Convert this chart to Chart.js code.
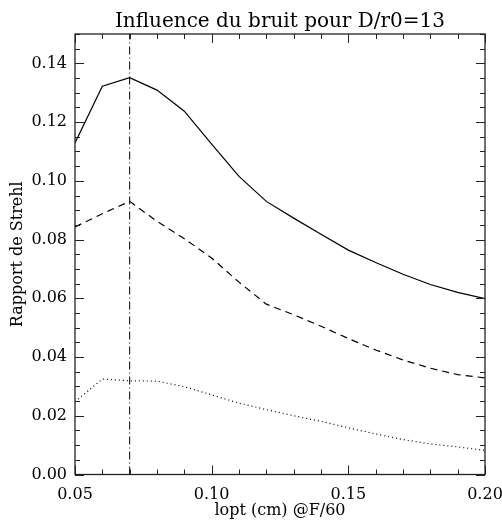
<!DOCTYPE html>
<html>
<head>
<meta charset="utf-8">
<script src="https://cdn.jsdelivr.net/npm/chart.js@4"></script>
<style>
  html, body { margin: 0; padding: 0; background: #fff; }
  #wrap { width: 502px; height: 521px; }
</style>
</head>
<body>
<div id="wrap"><canvas id="chart" width="502" height="521"></canvas></div>
<script>
// --- Data ---
const lopt = [0.05, 0.06, 0.07, 0.08, 0.09, 0.10, 0.11, 0.12, 0.13, 0.14, 0.15, 0.16, 0.17, 0.18, 0.19, 0.20];
const strehlSolid  = [0.1129, 0.1322, 0.1351, 0.1309, 0.1237, 0.1125, 0.1015, 0.0930, 0.0873, 0.0818, 0.0764, 0.0722, 0.0682, 0.0647, 0.0620, 0.0599];
const strehlDashed = [0.0843, 0.0888, 0.0930, 0.0862, 0.0803, 0.0737, 0.0655, 0.0580, 0.0544, 0.0505, 0.0463, 0.0424, 0.0390, 0.0362, 0.0340, 0.0329];
const strehlDotted = [0.0248, 0.0325, 0.0319, 0.0318, 0.0299, 0.0271, 0.0243, 0.0221, 0.0200, 0.0181, 0.0159, 0.0138, 0.0119, 0.0104, 0.0094, 0.0082];
const markerX = [0.07, 0.07];
const markerY = [0.0, 0.15];

const xTicks = [0.05, 0.10, 0.15, 0.20];
const yTicks = [0.00, 0.02, 0.04, 0.06, 0.08, 0.10, 0.12, 0.14];
const xMinorStep = 0.01;
const yMinorStep = 0.005;

const chartTitle = 'Influence du bruit pour D/r0=13';
const FONT = "'DejaVu Serif', serif";

function toPoints(xs, ys) {
    return xs.map((x, i) => ({ x: x, y: ys[i] }));
}

// --- IDL style box with inward ticks on all four sides, title over the plot ---
const boxPlugin = {
    id: 'idlBox',
    afterDraw(chart) {
        const { ctx, chartArea: a, scales: { x, y } } = chart;
        ctx.save();
        ctx.strokeStyle = '#222';
        ctx.lineWidth = 1.3;
        ctx.strokeRect(a.left, a.top, a.right - a.left, a.bottom - a.top);

        ctx.lineWidth = 1;
        ctx.beginPath();
        // x ticks (bottom & top)
        for (let v = x.min; v <= x.max + 1e-9; v += xMinorStep) {
            const px = Math.round(x.getPixelForValue(v)) + 0.5;
            const major = xTicks.some(t => Math.abs(t - v) < 1e-6);
            const len = major ? 9 : 5;
            ctx.moveTo(px, a.bottom); ctx.lineTo(px, a.bottom - len);
            ctx.moveTo(px, a.top); ctx.lineTo(px, a.top + len);
        }
        // y ticks (left & right)
        for (let v = y.min; v <= y.max + 1e-9; v += yMinorStep) {
            const py = Math.round(y.getPixelForValue(v)) + 0.5;
            const major = yTicks.some(t => Math.abs(t - v) < 1e-6);
            const len = major ? 9 : 5;
            ctx.moveTo(a.left, py); ctx.lineTo(a.left + len, py);
            ctx.moveTo(a.right, py); ctx.lineTo(a.right - len, py);
        }
        ctx.stroke();

        // title centred on the plot box
        ctx.fillStyle = '#000';
        ctx.font = '20px ' + FONT;
        ctx.textAlign = 'center';
        ctx.textBaseline = 'alphabetic';
        ctx.fillText(chartTitle, (a.left + a.right) / 2, a.top - 7);
        ctx.restore();
    }
};

const ctx = document.getElementById('chart').getContext('2d');
new Chart(ctx, {
    type: 'line',
    data: {
        datasets: [
            {
                data: toPoints(lopt, strehlSolid),
                borderColor: '#000',
                borderWidth: 1.2
            },
            {
                data: toPoints(lopt, strehlDashed),
                borderColor: '#000',
                borderWidth: 1.2,
                borderDash: [7, 5]
            },
            {
                data: toPoints(lopt, strehlDotted),
                borderColor: '#000',
                borderWidth: 1.2,
                borderDash: [1, 3]
            },
            {
                data: toPoints(markerX, markerY),
                borderColor: '#000',
                borderWidth: 1,
                borderDash: [8, 3, 1, 3]
            }
        ]
    },
    options: {
        responsive: false,
        animation: false,
        layout: { padding: { left: 0, right: 17, top: 34, bottom: 0 } },
        elements: { point: { radius: 0 }, line: { tension: 0, fill: false } },
        plugins: {
            legend: { display: false },
            tooltip: { enabled: false },
            title: { display: false }
        },
        scales: {
            x: {
                type: 'linear',
                min: 0.05,
                max: 0.20,
                afterBuildTicks: (scale) => { scale.ticks = xTicks.map(v => ({ value: v })); },
                afterFit: (scale) => {
                    scale.height = 46.5;
                    scale.paddingLeft = 0;
                    scale.paddingRight = 0;
                },
                grid: { display: false, drawTicks: false },
                border: { display: false },
                ticks: {
                    color: '#000',
                    padding: 11,
                    maxRotation: 0,
                    font: { family: FONT, size: 16 },
                    callback: (v) => v.toFixed(2)
                },
                title: {
                    display: true,
                    text: 'lopt (cm) @F/60',
                    color: '#000',
                    font: { family: FONT, size: 16, lineHeight: 1.2 },
                    padding: { top: 0, bottom: 1 }
                }
            },
            y: {
                type: 'linear',
                min: 0,
                max: 0.15,
                afterBuildTicks: (scale) => { scale.ticks = yTicks.map(v => ({ value: v })); },
                afterFit: (scale) => {
                    scale.width = 75;
                    scale.paddingTop = 0;
                    scale.paddingBottom = 0;
                },
                grid: { display: false, drawTicks: false },
                border: { display: false },
                ticks: {
                    color: '#000',
                    padding: 8,
                    font: { family: FONT, size: 16 },
                    callback: (v) => v.toFixed(2)
                },
                title: {
                    display: true,
                    text: 'Rapport de Strehl',
                    color: '#000',
                    font: { family: FONT, size: 16, lineHeight: 1.2 },
                    padding: { top: 8, bottom: 0 }
                }
            }
        }
    },
    plugins: [boxPlugin]
});
</script>
</body>
</html>
